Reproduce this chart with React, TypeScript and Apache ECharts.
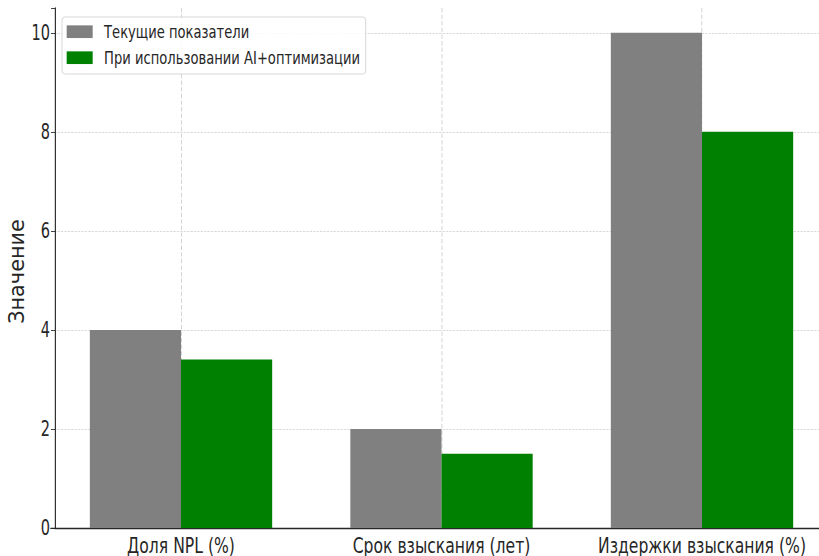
import React, { useEffect, useRef } from "react";
import * as echarts from "echarts";

const categories = ["Доля NPL (%)", "Срок взыскания (лет)", "Издержки взыскания (%)"];
const currentValues = [4, 2, 10];
const aiValues = [3.4, 1.5, 8];
const seriesNames = ["Текущие показатели", "При использовании AI+оптимизации"];
const yTicks = [0, 2, 4, 6, 8, 10];
const yAxisTitle = "Значение";

// tick/legend texts in the reference are condensed; draw wide and squeeze horizontally
const S = 0.71;
const W = 819 / S + 40;
const FONT = "'DejaVu Sans', sans-serif";
const GRID_LEFT = 50.75 / S;
const AXIS_X = 55 / S;

export default function App() {
  const ref = useRef<HTMLDivElement>(null);
  useEffect(() => {
    if (!ref.current) return;
    const chart = echarts.init(ref.current, undefined, { renderer: "svg" });
    chart.setOption({
      animation: false,
      backgroundColor: "#ffffff",
      grid: { left: GRID_LEFT, top: 8, width: 781.5 / S, height: 524, containLabel: false },
      legend: {
        orient: "vertical",
        left: 62 / S,
        top: 17,
        itemWidth: 26 / S,
        itemHeight: 12.7,
        itemGap: 7,
        padding: [5.2, 7.6, 6.8, 6.6],
        borderColor: "#d0d0d0",
        borderWidth: 1,
        borderRadius: 4,
        backgroundColor: "rgba(255,255,255,0.85)",
        icon: "rect",
        textStyle: { fontFamily: FONT, fontSize: 18.5, color: "#262626", padding: [0, 0, 0, 11] },
        data: seriesNames,
      },
      xAxis: {
        type: "category",
        data: categories,
        axisLine: { lineStyle: { color: "#262626", width: 1.3 } },
        axisTick: { alignWithLabel: true, length: 5, lineStyle: { color: "#262626" } },
        axisLabel: { fontFamily: FONT, fontSize: 22, color: "#262626", margin: 6, interval: 0 },
        splitLine: {
          show: true,
          alignWithLabel: true,
          lineStyle: { color: "#c8c8c8", type: "dashed", width: 1.1 },
        },
      },
      yAxis: {
        type: "value",
        min: 0,
        max: 10.5,
        interval: 2,
        offset: -(AXIS_X - GRID_LEFT),
        axisLine: { show: true, lineStyle: { color: "#262626", width: 1.6 } },
        axisTick: { show: true, length: 5.6, lineStyle: { color: "#262626" } },
        axisLabel: {
          fontFamily: FONT,
          fontSize: 20.5,
          color: "#262626",
          margin: 7,
          formatter: (v: number) => (yTicks.includes(v) ? String(v) : ""),
        },
        splitLine: {
          show: true,
          showMinLine: false,
          showMaxLine: false,
          lineStyle: { color: "#c8c8c8", type: "dashed", width: 0.8 },
        },
      },
      series: [
        {
          name: seriesNames[0],
          type: "bar",
          data: currentValues,
          barWidth: "35%",
          barGap: "0%",
          itemStyle: { color: "#808080" },
        },
        {
          name: seriesNames[1],
          type: "bar",
          data: aiValues,
          barWidth: "35%",
          barGap: "0%",
          itemStyle: { color: "#008000" },
        },
      ],
      graphic: [
        {
          type: "rect",
          z: 100,
          shape: { x: GRID_LEFT - 0.5, y: 529, width: AXIS_X - GRID_LEFT - 0.3, height: 6 },
          style: { fill: "#ffffff" },
        },
        {
          type: "text",
          z: 100,
          x: 17 / S,
          y: 271.5,
          rotation: Math.PI / 2,
          scaleY: 1 / S,
          style: {
            text: yAxisTitle,
            fontFamily: FONT,
            fontSize: 20.8,
            fill: "#262626",
            align: "center",
            verticalAlign: "middle",
          },
        },
      ],
    });
    return () => chart.dispose();
  }, []);
  return (
    <div style={{ position: "fixed", left: 0, top: 0, width: 819, height: 556, overflow: "hidden", background: "#fff" }}>
      <div
        ref={ref}
        style={{ width: W, height: 556, transform: `scaleX(${S})`, transformOrigin: "0 0" }}
      />
    </div>
  );
}
